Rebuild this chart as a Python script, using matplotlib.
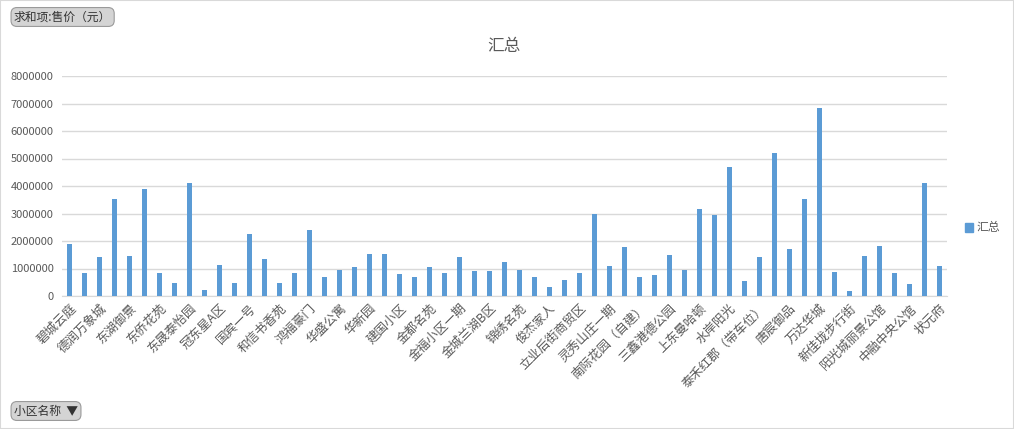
import matplotlib
matplotlib.use("Agg")
import matplotlib.pyplot as plt
import matplotlib.ticker as mticker
from matplotlib.patches import Rectangle, Patch
import numpy as np

plt.rcParams['font.family'] = ['Noto Sans CJK SC', 'DejaVu Sans']

# 59 communities, only every other name is shown on the axis
values = [
    1.89e6, 0.84e6, 1.42e6, 3.53e6, 1.45e6, 3.89e6, 0.84e6, 0.47e6, 4.11e6, 0.22e6,
    1.13e6, 0.47e6, 2.25e6, 1.35e6, 0.47e6, 0.84e6, 2.40e6, 0.69e6, 0.95e6, 1.05e6,
    1.53e6, 1.53e6, 0.80e6, 0.69e6, 1.05e6, 0.84e6, 1.42e6, 0.91e6, 0.91e6, 1.24e6,
    0.95e6, 0.69e6, 0.33e6, 0.58e6, 0.84e6, 2.98e6, 1.09e6, 1.78e6, 0.69e6, 0.76e6,
    1.49e6, 0.95e6, 3.16e6, 2.95e6, 4.69e6, 0.55e6, 1.42e6, 5.20e6, 1.71e6, 3.53e6,
    6.84e6, 0.87e6, 0.18e6, 1.45e6, 1.82e6, 0.84e6, 0.44e6, 4.11e6, 1.09e6,
]
tick_labels = [
    "碧城云庭", "德润万象城", "东湖御景", "东侨花苑", "东晟泰怡园", "冠东星A区",
    "国宾一号", "和信书香苑", "鸿福豪门", "华盛公寓", "华新园", "建国小区",
    "金都名苑", "金福小区一期", "金城兰湖B区", "锦绣名苑", "俊杰家人",
    "立业后街商贸区", "灵秀山庄一期", "南际花园（自建）", "三鑫港德公园",
    "上东曼哈顿", "水岸阳光", "泰禾红郡（带车位）", "唐宸御品", "万达华城",
    "新佳垅步行街", "阳光城丽景公馆", "中融中央公馆", "状元府",
]
yticks = [0, 1000000, 2000000, 3000000, 4000000, 5000000, 6000000, 7000000, 8000000]

W, H = 1014, 429
fig = plt.figure(figsize=(W / 100, H / 100), dpi=100)
fig.patch.set_facecolor("white")
fig.patches.append(Rectangle((0, 0), 1, 1, transform=fig.transFigure, fill=False,
                             ec="#d9d9d9", lw=1.5))

ax = fig.add_axes([62 / W, 1 - 296 / H, (947 - 62) / W, (296 - 76) / H])
x = np.arange(len(values))
bar_color = "#5b9bd5"
ax.bar(x, values, width=0.34, color=bar_color, zorder=3)
ax.set_xlim(-0.5, len(values) - 0.5)
ax.set_ylim(0, 8000000)
ax.set_yticks(yticks)
ax.yaxis.set_major_formatter(mticker.FuncFormatter(lambda v, p: "%d" % v))
ax.grid(axis="y", color="#d9d9d9", lw=1, zorder=0)
for s in ["top", "right", "left"]:
    ax.spines[s].set_visible(False)
ax.spines["bottom"].set_color("#d9d9d9")
ax.tick_params(axis="both", length=0, colors="#595959", labelsize=8)
ax.tick_params(axis="y", pad=6)

ax.set_xticks(x[::2])
ax.set_xticklabels(tick_labels, rotation=45, ha="right", rotation_mode="anchor",
                   fontsize=9, color="#595959")
ax.tick_params(axis="x", pad=4)

fig.text(504 / W, 1 - 46 / H, "汇总", ha="center", va="center", fontsize=12,
         color="#595959")

fig.legend(handles=[Patch(color=bar_color)], labels=["汇总"], loc="center left",
           bbox_to_anchor=(965 / W, 1 - 228 / H), frameon=False,
           handlelength=0.7, handleheight=0.7, handletextpad=0.3,
           borderaxespad=0, borderpad=0, fontsize=8.5, labelcolor="#595959")

btn = dict(boxstyle="round,pad=0.25,rounding_size=0.5", fc="#d4d4d4", ec="#9a9a9a", lw=0.8)
fig.text(14 / W, 1 - 17 / H, "求和项:售价（元）", ha="left", va="center", fontsize=8.5,
         color="#333333", bbox=btn)
fig.text(14 / W, 1 - 411 / H, "小区名称  ▼", ha="left", va="center", fontsize=8.5,
         color="#333333", bbox=btn)

fig.savefig("out.png", dpi=100)
